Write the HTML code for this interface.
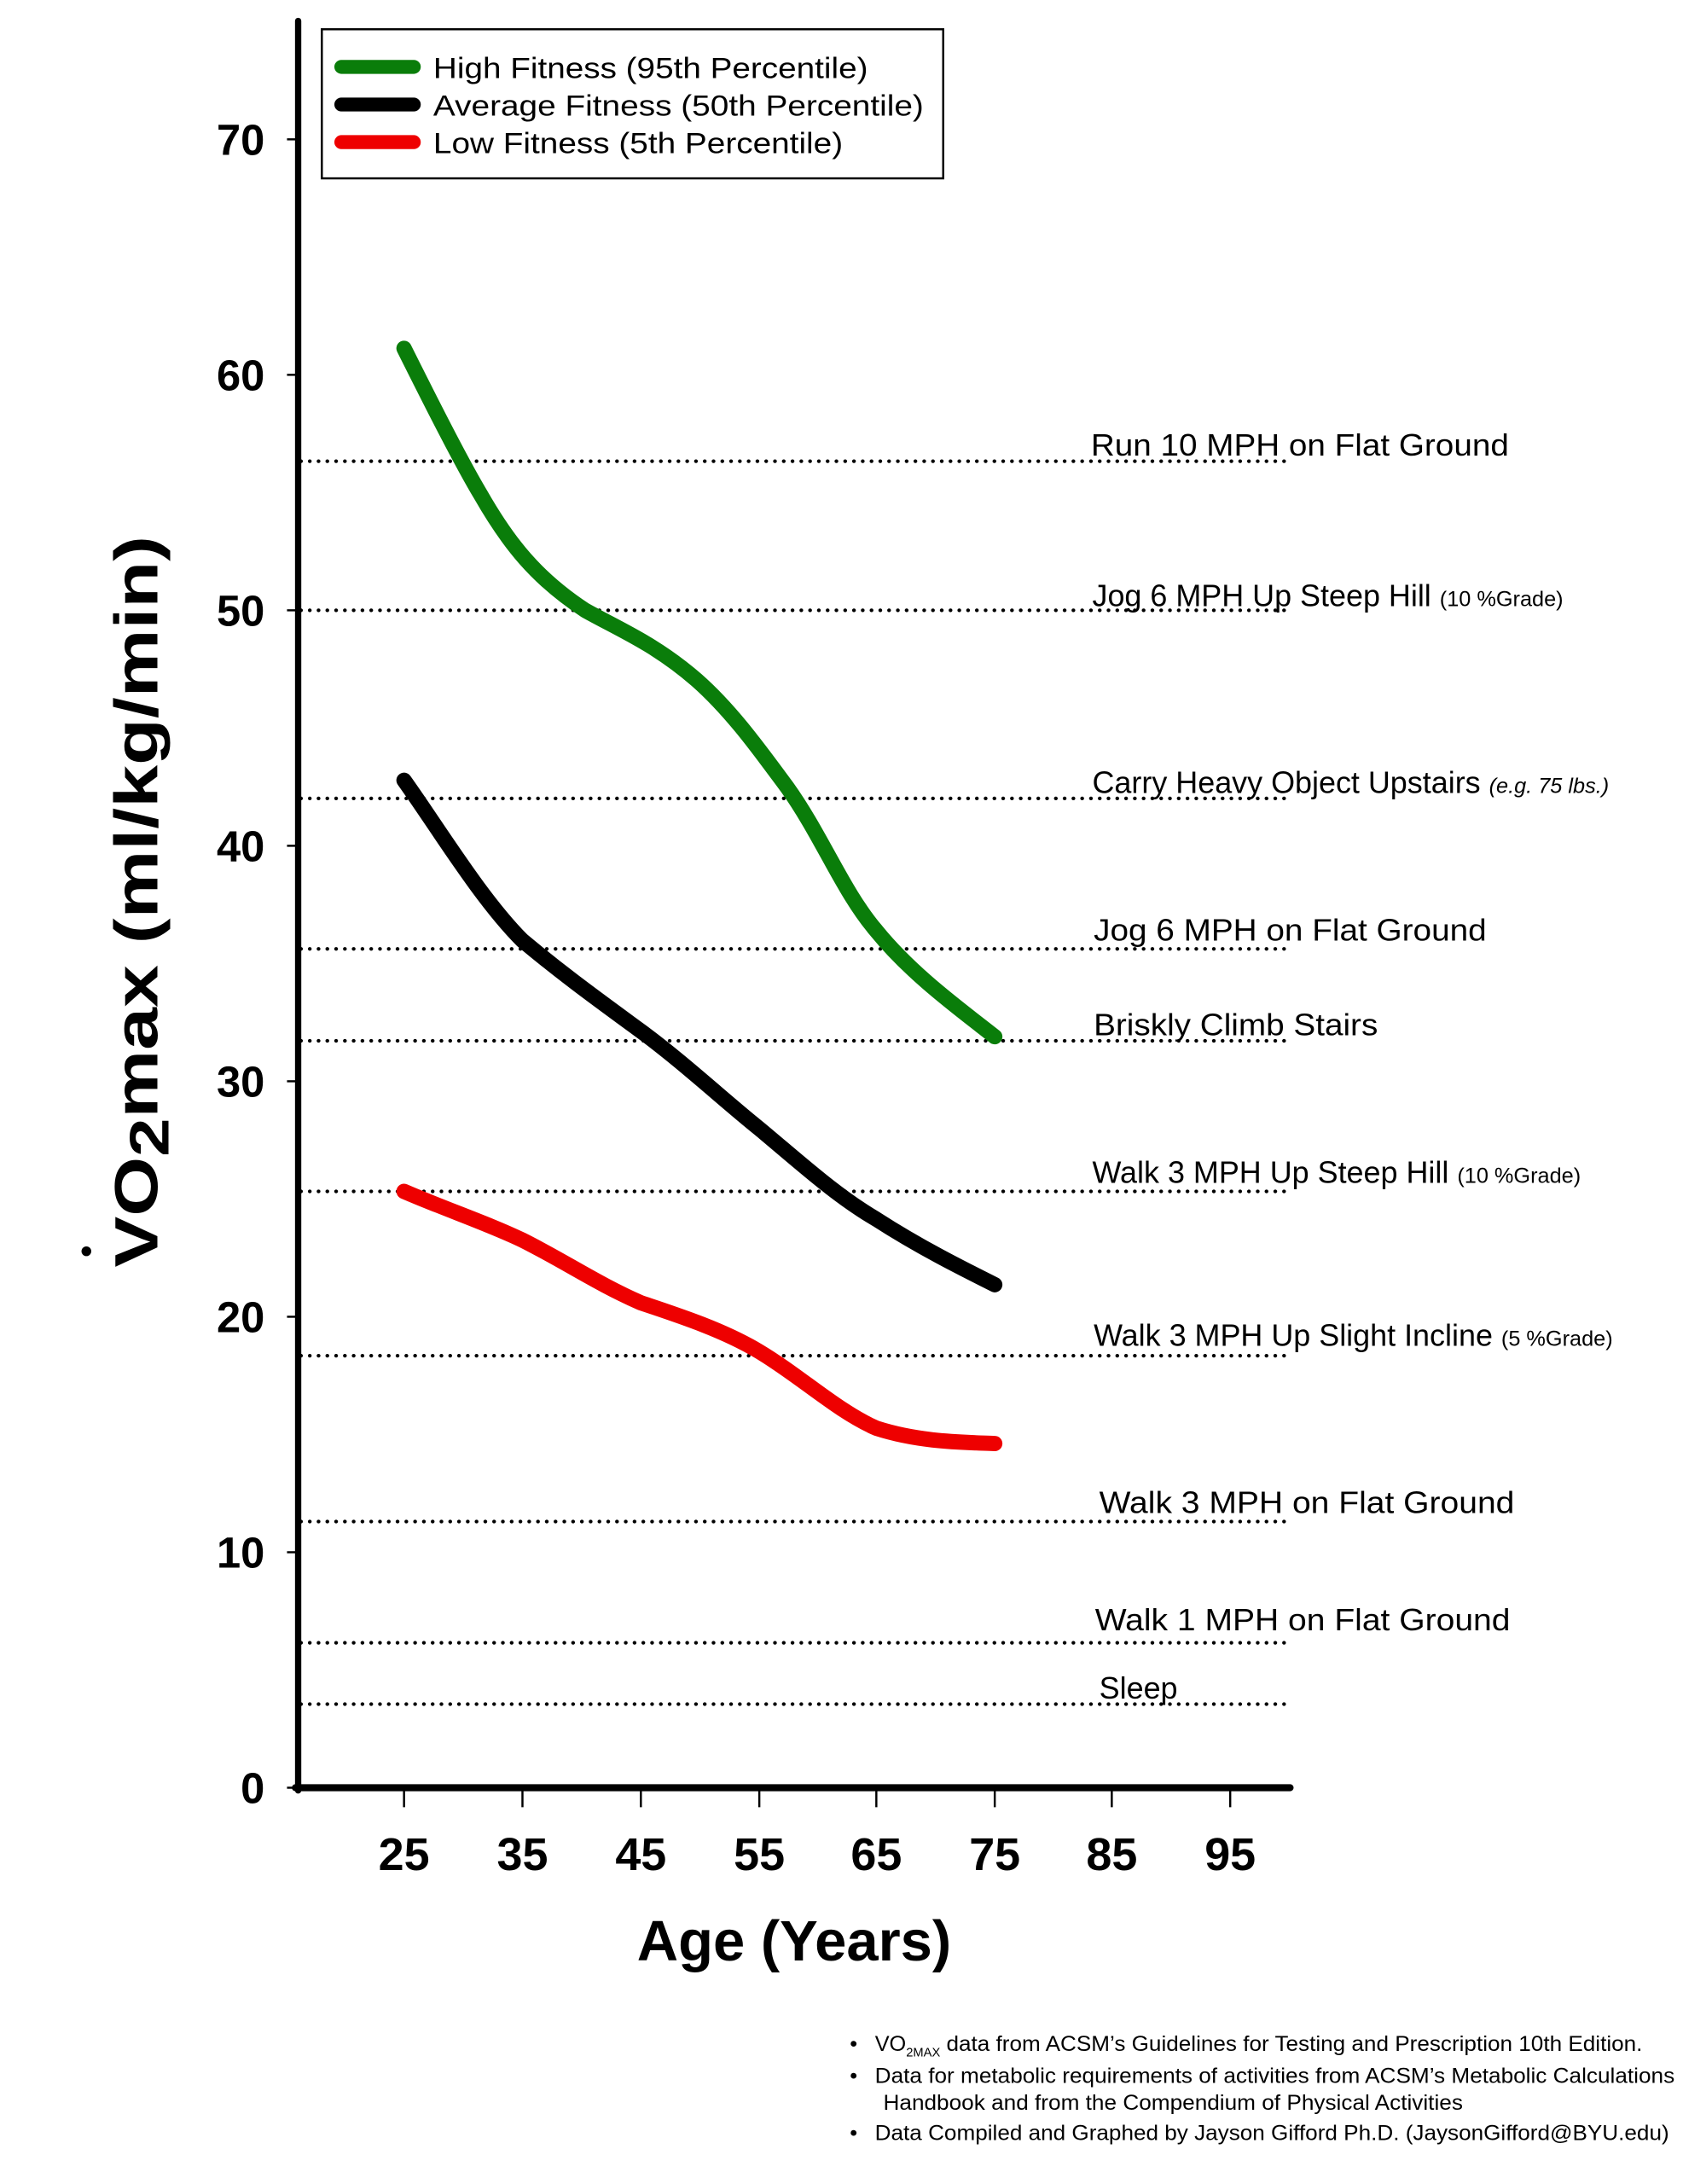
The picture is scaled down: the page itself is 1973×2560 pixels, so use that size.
<!DOCTYPE html>
<html><head><meta charset="utf-8"><style>html,body{margin:0;padding:0;background:#fff}svg{display:block}</style></head>
<body>
<svg width="1973" height="2560" viewBox="0 0 1208 1567.4" preserveAspectRatio="none" xmlns="http://www.w3.org/2000/svg" font-family="Liberation Sans, Arial, sans-serif">
<rect width="1225" height="1590" fill="#fff"/>
<g stroke="#000" stroke-width="2.6" stroke-dasharray="0.1 6.2" stroke-linecap="round">
<line x1="216" y1="331" x2="922" y2="331"/>
<line x1="216" y1="438" x2="922" y2="438"/>
<line x1="216" y1="573" x2="922" y2="573"/>
<line x1="216" y1="681" x2="922" y2="681"/>
<line x1="216" y1="747" x2="922" y2="747"/>
<line x1="216" y1="855" x2="922" y2="855"/>
<line x1="216" y1="973" x2="922" y2="973"/>
<line x1="216" y1="1092" x2="922" y2="1092"/>
<line x1="216" y1="1179" x2="922" y2="1179"/>
<line x1="216" y1="1223" x2="922" y2="1223"/>
</g>
<g font-size="22" fill="#000">
<text x="783" y="327" textLength="300" lengthAdjust="spacingAndGlyphs">Run 10 MPH on Flat Ground</text>
<text x="784" y="435">Jog 6 MPH Up Steep Hill <tspan font-size="15.5">(10 %Grade)</tspan></text>
<text x="784" y="569">Carry Heavy Object Upstairs <tspan font-size="15.5" font-style="italic">(e.g. 75 lbs.)</tspan></text>
<text x="785" y="675" textLength="282" lengthAdjust="spacingAndGlyphs">Jog 6 MPH on Flat Ground</text>
<text x="785" y="743" textLength="204" lengthAdjust="spacingAndGlyphs">Briskly Climb Stairs</text>
<text x="784" y="849">Walk 3 MPH Up Steep Hill <tspan font-size="15.5">(10 %Grade)</tspan></text>
<text x="785" y="966">Walk 3 MPH Up Slight Incline <tspan font-size="15.5">(5 %Grade)</tspan></text>
<text x="789" y="1086" textLength="298" lengthAdjust="spacingAndGlyphs">Walk 3 MPH on Flat Ground</text>
<text x="786" y="1170" textLength="298" lengthAdjust="spacingAndGlyphs">Walk 1 MPH on Flat Ground</text>
<text x="789" y="1219">Sleep</text>
</g>
<line x1="214" y1="15" x2="214" y2="1285" stroke="#000" stroke-width="4.5" stroke-linecap="round"/>
<line x1="212" y1="1283" x2="926" y2="1283" stroke="#000" stroke-width="5" stroke-linecap="round"/>
<g stroke="#000" stroke-width="1.5">
<line x1="206" y1="100" x2="214" y2="100"/><line x1="206" y1="269" x2="214" y2="269"/>
<line x1="206" y1="438" x2="214" y2="438"/><line x1="206" y1="607" x2="214" y2="607"/>
<line x1="206" y1="776" x2="214" y2="776"/><line x1="206" y1="945" x2="214" y2="945"/>
<line x1="206" y1="1114" x2="214" y2="1114"/><line x1="206" y1="1283" x2="214" y2="1283"/>
<line x1="290" y1="1283" x2="290" y2="1297"/><line x1="375" y1="1283" x2="375" y2="1297"/>
<line x1="460" y1="1283" x2="460" y2="1297"/><line x1="545" y1="1283" x2="545" y2="1297"/>
<line x1="629" y1="1283" x2="629" y2="1297"/><line x1="714" y1="1283" x2="714" y2="1297"/>
<line x1="798" y1="1283" x2="798" y2="1297"/><line x1="883" y1="1283" x2="883" y2="1297"/>
</g>
<g font-size="31" font-weight="bold" text-anchor="end">
<text x="190" y="111">70</text><text x="190" y="280">60</text><text x="190" y="449">50</text>
<text x="190" y="618">40</text><text x="190" y="787">30</text><text x="190" y="956">20</text>
<text x="190" y="1125">10</text><text x="190" y="1294">0</text>
</g>
<g font-size="33" font-weight="bold" text-anchor="middle">
<text x="290" y="1342">25</text><text x="375" y="1342">35</text><text x="460" y="1342">45</text>
<text x="545" y="1342">55</text><text x="629" y="1342">65</text><text x="714" y="1342">75</text>
<text x="798" y="1342">85</text><text x="883" y="1342">95</text>
</g>
<text x="570" y="1407" font-size="41" font-weight="bold" text-anchor="middle">Age (Years)</text>
<g transform="translate(113,647) rotate(-90)">
<text x="0" y="0" font-size="44" font-weight="bold" text-anchor="middle" textLength="525" lengthAdjust="spacingAndGlyphs">VO<tspan font-size="40" dy="8">2</tspan><tspan dy="-8">max (ml/kg/min)</tspan></text>
</g>
<circle cx="62" cy="898" r="3.5" fill="#000"/>
<g fill="none" stroke-width="11" stroke-linecap="round" stroke-linejoin="round">
<path stroke="#0a7d0a" d="M290,250 C305,280 330,330 345,355 C365,390 385,415 420,438 C445,452 470,462 500,488 C525,510 545,538 565,565 C590,600 605,640 629,668 C655,700 690,725 714,744"/>
<path stroke="#000" d="M290,560 C315,595 345,645 375,675 C405,700 430,718 460,740 C490,762 520,790 545,810 C575,835 600,858 629,875 C660,895 690,910 714,922"/>
<path stroke="#ee0000" d="M290,855 C320,868 350,878 375,890 C405,905 430,922 460,935 C490,945 520,955 545,970 C575,988 600,1012 629,1025 C660,1035 690,1035 714,1036"/>
</g>
<rect x="231" y="21" width="446" height="107" fill="#fff" stroke="#000" stroke-width="1.5"/>
<g stroke-width="10" stroke-linecap="round">
<line x1="245" y1="48" x2="297" y2="48" stroke="#0a7d0a"/>
<line x1="245" y1="75" x2="297" y2="75" stroke="#000"/>
<line x1="245" y1="102" x2="297" y2="102" stroke="#ee0000"/>
</g>
<g font-size="21">
<text x="311" y="56" textLength="312" lengthAdjust="spacingAndGlyphs">High Fitness (95th Percentile)</text>
<text x="311" y="83" textLength="352" lengthAdjust="spacingAndGlyphs">Average Fitness (50th Percentile)</text>
<text x="311" y="110" textLength="294" lengthAdjust="spacingAndGlyphs">Low Fitness (5th Percentile)</text>
</g>
<g font-size="15.5">
<text x="610" y="1472">•</text>
<text x="628" y="1472">VO<tspan font-size="9" dy="4">2MAX</tspan><tspan dy="-4" textLength="504" lengthAdjust="spacingAndGlyphs"> data from ACSM’s Guidelines for Testing and Prescription 10th Edition.</tspan></text>
<text x="610" y="1495">•</text>
<text x="628" y="1495" textLength="574" lengthAdjust="spacingAndGlyphs">Data for metabolic requirements of activities from ACSM’s Metabolic Calculations</text>
<text x="634" y="1514" textLength="416" lengthAdjust="spacingAndGlyphs">Handbook and from the Compendium of Physical Activities</text>
<text x="610" y="1536">•</text>
<text x="628" y="1536" textLength="570" lengthAdjust="spacingAndGlyphs">Data Compiled and Graphed by Jayson Gifford Ph.D. (JaysonGifford@BYU.edu)</text>
</g>
</svg>
</body></html>
